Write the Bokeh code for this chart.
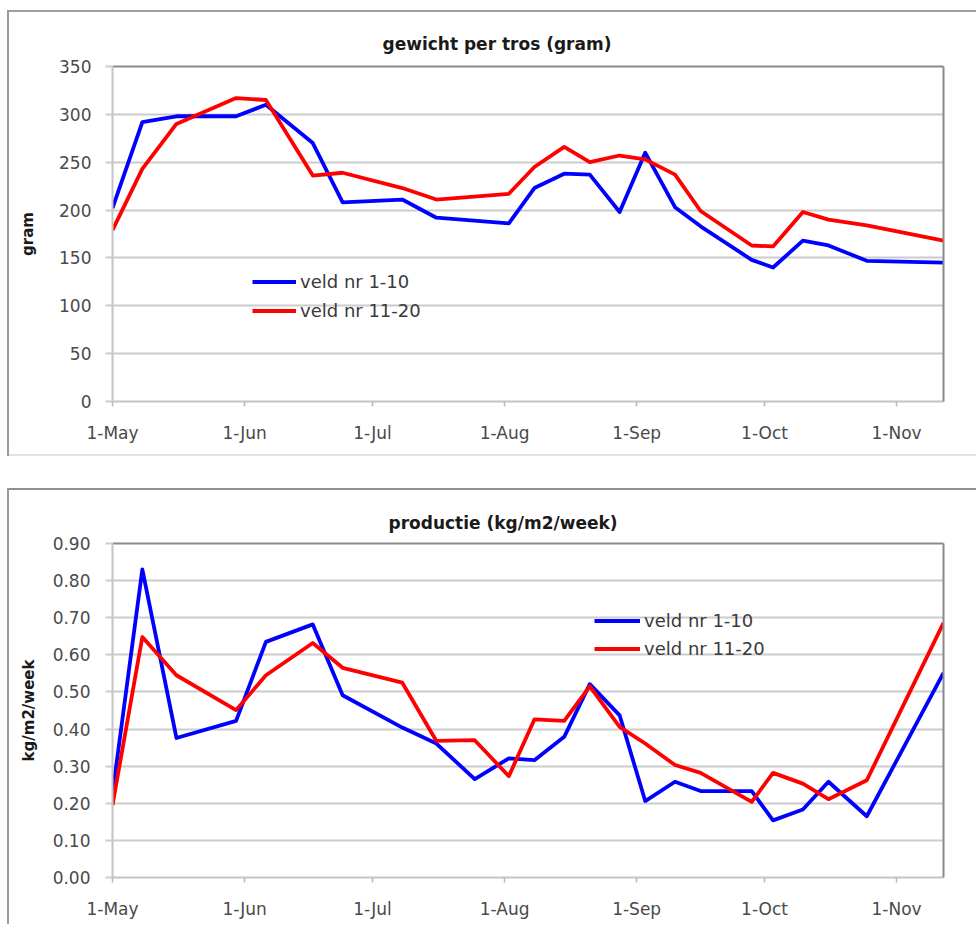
import pandas as pd
from bokeh.plotting import figure
from bokeh.models import (Range1d, FixedTicker, LinearAxis, Legend, LegendItem,
                          NumeralTickFormatter)
from bokeh.layouts import column
from bokeh.embed import file_html
from bokeh.resources import INLINE

# ---------------- data ----------------
BASE_DATE = "2010-05-01"
month_ticks = ["2010-05-01", "2010-06-01", "2010-07-01", "2010-08-01",
               "2010-09-01", "2010-10-01", "2010-11-01"]
month_labels = ["1-May", "1-Jun", "1-Jul", "1-Aug", "1-Sep", "1-Oct", "1-Nov"]

dates_weight = ["2010-05-01", "2010-05-08", "2010-05-16", "2010-05-30", "2010-06-06",
                "2010-06-17", "2010-06-24", "2010-07-08", "2010-07-16", "2010-08-02",
                "2010-08-08", "2010-08-15", "2010-08-21", "2010-08-28", "2010-09-03",
                "2010-09-10", "2010-09-16", "2010-09-28", "2010-10-03", "2010-10-10",
                "2010-10-16", "2010-10-25", "2010-11-12"]
weight_1_10 = [202, 292, 298, 298, 310, 270, 208, 211, 192, 186, 223, 238, 237, 198,
               260, 203, 183, 148, 140, 168, 163, 147, 145]
weight_11_20 = [179, 243, 290, 317, 315, 236, 239, 223, 211, 217, 245, 266, 250, 257,
                253, 237, 199, 163, 162, 198, 190, 184, 168]

dates_prod = ["2010-05-01", "2010-05-08", "2010-05-16", "2010-05-30", "2010-06-06",
              "2010-06-17", "2010-06-24", "2010-07-08", "2010-07-16", "2010-07-25",
              "2010-08-02", "2010-08-08", "2010-08-15", "2010-08-21", "2010-08-28",
              "2010-09-03", "2010-09-10", "2010-09-16", "2010-09-28", "2010-10-03",
              "2010-10-10", "2010-10-16", "2010-10-25", "2010-11-12"]
prod_1_10 = [0.226, 0.83, 0.376, 0.422, 0.635, 0.682, 0.491, 0.404, 0.361, 0.265,
             0.321, 0.316, 0.379, 0.521, 0.437, 0.206, 0.258, 0.233, 0.233, 0.154,
             0.183, 0.258, 0.165, 0.551]
prod_11_20 = [0.195, 0.648, 0.545, 0.451, 0.545, 0.632, 0.565, 0.525, 0.368, 0.370,
              0.273, 0.426, 0.422, 0.515, 0.406, 0.361, 0.303, 0.282, 0.204, 0.282,
              0.253, 0.211, 0.262, 0.686]

weight_ticks = [0, 50, 100, 150, 200, 250, 300, 350]
prod_ticks = [0.0, 0.1, 0.2, 0.3, 0.4, 0.5, 0.6, 0.7, 0.8, 0.9]

series_names = ["veld nr 1-10", "veld nr 11-20"]
series_colors = ["#0000FF", "#FF0000"]


def to_days(dates):
    base = pd.Timestamp(BASE_DATE)
    return [(pd.Timestamp(d) - base).days for d in dates]


FONT = "DejaVu Sans"
TICK_COLOR = "#4a4a4a"


def make_chart(title, ylabel, dates, s1, s2, yticks, width, height, borders,
               title_offset, title_standoff, legend_loc, glyph_w, legend_spacing,
               ystandoff, label_standoff, fmt=None, shadow=""):
    x = to_days(dates)
    tick_days = to_days(month_ticks)
    p = figure(width=width, height=height, output_backend="svg", toolbar_location=None,
               x_range=Range1d(x[0], x[-1]), y_range=Range1d(yticks[0], yticks[-1]),
               min_border_left=borders[0], min_border_right=borders[1],
               min_border_top=borders[2], min_border_bottom=borders[3],
               border_fill_color=None, background_fill_color="white",
               outline_line_color=None)
    p.styles = {"box-shadow": shadow}

    p.title.text = title
    p.title.align = "left"
    p.title.offset = title_offset
    p.title.standoff = title_standoff
    p.title.text_font = FONT
    p.title.text_font_size = "17px"
    p.title.text_font_style = "bold"
    p.title.text_color = "#1a1a1a"

    xa = p.below[0]
    xa.ticker = FixedTicker(ticks=tick_days)
    xa.major_label_overrides = {d: l for d, l in zip(tick_days, month_labels)}
    xa.axis_line_color = "#c4c4c4"
    xa.axis_line_width = 2
    xa.major_tick_in = 0
    xa.major_tick_out = 5
    xa.major_tick_line_color = "#b8b8b8"
    xa.major_tick_line_width = 1.5
    xa.minor_tick_line_color = None
    xa.major_label_text_font = FONT
    xa.major_label_text_font_size = "17px"
    xa.major_label_text_color = TICK_COLOR
    xa.major_label_standoff = 16

    ya = p.left[0]
    ya.ticker = FixedTicker(ticks=yticks)
    if fmt:
        ya.formatter = NumeralTickFormatter(format=fmt)
    ya.axis_line_color = "#c4c4c4"
    ya.axis_line_width = 2
    ya.major_tick_in = 0
    ya.major_tick_out = 7
    ya.major_tick_line_color = "#cccccc"
    ya.major_tick_line_width = 2
    ya.minor_tick_line_color = None
    ya.major_label_text_font = FONT
    ya.major_label_text_font_size = "17px"
    ya.major_label_text_color = TICK_COLOR
    ya.major_label_standoff = ystandoff
    ya.axis_label = ylabel
    ya.axis_label_text_font = FONT
    ya.axis_label_text_font_size = "15px"
    ya.axis_label_text_font_style = "bold"
    ya.axis_label_text_color = "#1a1a1a"
    ya.axis_label_standoff = label_standoff

    p.xgrid.grid_line_color = None
    p.ygrid.grid_line_color = "#cccccc"
    p.ygrid.grid_line_width = 2

    # dark plot-area border on top and right
    for side in ("right", "above"):
        ax = LinearAxis(ticker=FixedTicker(ticks=[]), axis_line_color="#8a8a8a",
                        axis_line_width=2, major_tick_line_color=None,
                        minor_tick_line_color=None, major_label_text_font_size="0px")
        p.add_layout(ax, side)

    r1 = p.line(x, s1, line_color=series_colors[0], line_width=3.8, line_join="round")
    r2 = p.line(x, s2, line_color=series_colors[1], line_width=3.8, line_join="round")

    leg = Legend(items=[LegendItem(label=series_names[0], renderers=[r1]),
                        LegendItem(label=series_names[1], renderers=[r2])],
                 location=legend_loc, orientation="vertical", padding=0, margin=0,
                 spacing=legend_spacing, glyph_width=glyph_w, glyph_height=25,
                 label_height=25, label_standoff=4, label_text_font=FONT,
                 label_text_font_size="18px", label_text_color="#3a3a3a",
                 border_line_color=None, background_fill_alpha=0)
    p.add_layout(leg)
    return p


top_shadow = ("inset 7px 0 0 0 #ffffff, inset 0 10px 0 0 #ffffff, "
              "inset 9px 0 0 0 #9a9a9a, inset 0 12px 0 0 #a0a0a0, "
              "inset 0 -2px 0 0 #e2e2e2")
bottom_shadow = ("inset 7px 0 0 0 #ffffff, "
                 "inset 9px 0 0 0 #9a9a9a, inset 0 2px 0 0 #8f8f8f")

p1 = make_chart("gewicht per tros (gram)", "gram", dates_weight, weight_1_10, weight_11_20,
                weight_ticks, 976, 456, (110, 33, 66, 55), 270, 25, (140, 78), 44, 4,
                14, 19, shadow=top_shadow)
p2 = make_chart("productie (kg/m2/week)", "kg/m2/week", dates_prod, prod_1_10, prod_11_20,
                prod_ticks, 976, 436, (112, 23, 55, 47), 276, 22, (482, 216), 46, 3,
                15, 12, fmt="0.00", shadow=bottom_shadow)

layout = column(p1, p2, spacing=32)
open("out.html", "w").write(file_html(layout, INLINE))
